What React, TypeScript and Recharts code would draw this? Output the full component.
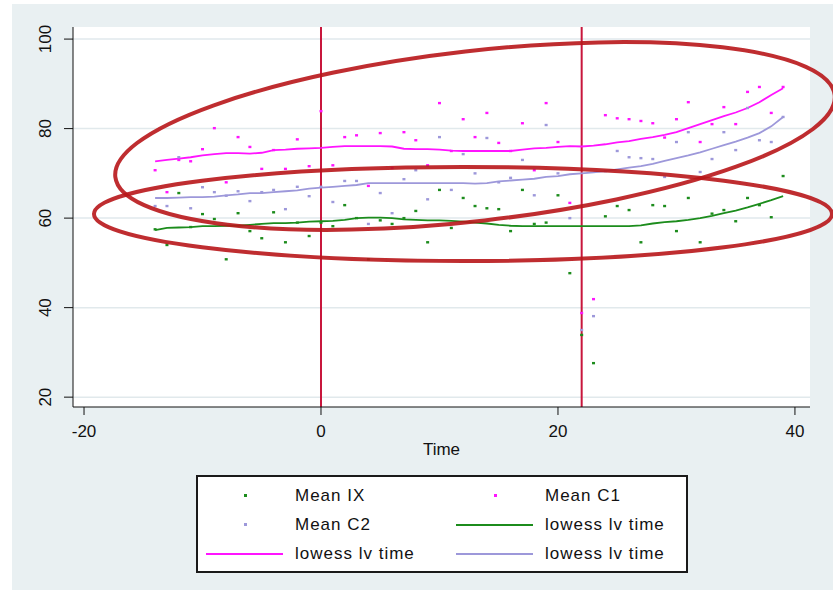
import { ComposedChart, Scatter, Line, XAxis, YAxis, CartesianGrid, ReferenceLine } from 'recharts'

// time points
const times = [
  -14, -13, -12, -11, -10, -9, -8, -7, -6, -5, -4, -3, -2, -1, 0, 1, 2, 3, 4, 5,
  6, 7, 8, 9, 10, 11, 12, 13, 14, 15, 16, 17, 18, 19, 20, 21, 22, 23, 24, 25,
  26, 27, 28, 29, 30, 31, 32, 33, 34, 35, 36, 37, 38, 39,
]

const meanIX = [
  57.5, 54, 65.6, 58, 60.9, 59.8, 50.8, 61.1, 57.1, 55.5, 61.3, 54.6, 59, 56, 59, 58.2, 62.9, 60, 50.8, 59.5,
  58.7, 60, 61.6, 54.6, 66.3, 57.8, 64.5, 62.7, 62.2, 62, 57.1, 66.3, 58.7, 59, 65.1, 47.7, 33.9, 27.6, 60.4, 62.7,
  61.8, 54.6, 62.9, 62.7, 57.1, 64.5, 54.6, 61, 61.8, 59.3, 64.5, 62.9, 60.2, 69.4,
]

const meanC1 = [
  70.7, 65.8, 73, 72.7, 75.4, 80.1, 68, 78.1, 75.9, 71, 75.2, 71, 77.6, 71.6, 83.9, 71.8, 78.1, 78.5, 67.2, 79,
  71.2, 79.2, 77.4, 71.8, 85.7, 75, 82.1, 78.1, 83.5, 76.8, 75, 81.2, 70.7, 85.7, 77, 63.4, 38.8, 41.9, 83, 82.3,
  82.1, 81.7, 81.2, 78, 82.1, 85.9, 77, 81, 84.8, 81, 88.2, 89.3, 83.5, 89.3,
]

const meanC2 = [
  62.7, 62.7, 73.6, 62.2, 66.9, 65.8, 65, 66, 63.8, 65.8, 66.3, 62, 67, 64.9, 67, 63.6, 68.3, 68.3, 58.7, 65.6,
  61.1, 68.7, 70.7, 64.2, 78.1, 66.3, 74.3, 70, 77.9, 68, 69, 73, 65.1, 80.8, 70, 60, 35, 38.1, 70.5, 75,
  73.6, 73.4, 73.2, 69.2, 77, 79.2, 70.3, 73.2, 79.2, 75.2, 84.6, 77.4, 77, 82.6,
]

// lowess smooths
const lowessIX = [
  57.3, 57.8, 57.9, 58, 58.2, 58.2, 58.3, 58.3, 58.5, 58.7, 58.9, 58.9, 59, 59.2, 59.3, 59.4, 59.6, 60, 60.1, 60.1,
  60, 59.7, 59.6, 59.5, 59.5, 59.4, 59.2, 59, 58.8, 58.5, 58.3, 58.2, 58.2, 58.2, 58.2, 58.2, 58.2, 58.2, 58.2, 58.2,
  58.2, 58.4, 58.8, 59.1, 59.3, 59.6, 60, 60.5, 61.1, 61.7, 62.4, 63.2, 64, 64.9,
]

const lowessC1 = [
  72.7, 73, 73.3, 73.6, 74, 74.3, 74.5, 74.5, 74.4, 74.6, 75.2, 75.3, 75.5, 75.6, 75.7, 75.9, 76.1, 76.1, 76.1, 76.1,
  76, 75.5, 75.4, 75.4, 75.3, 75.1, 75, 75, 75, 75, 75, 75.3, 75.6, 75.7, 75.9, 76.1, 76, 76.2, 76.5, 76.9,
  77.2, 77.7, 78.1, 78.6, 79.2, 80.1, 81, 81.9, 82.8, 83.6, 84.6, 85.9, 87.5, 89,
]

const lowessC2 = [
  64.5, 64.5, 64.6, 64.7, 64.7, 64.8, 65.1, 65.3, 65.6, 65.6, 65.8, 66, 66.2, 66.6, 66.8, 67, 67.2, 67.4, 67.8, 67.8,
  67.8, 67.8, 67.8, 67.8, 67.8, 67.8, 67.8, 67.7, 67.8, 68.2, 68.4, 68.6, 68.8, 69.2, 69.4, 69.8, 70, 70.2, 70.5, 70.9,
  71.3, 71.6, 72.1, 72.8, 73.4, 74, 74.7, 75.5, 76.3, 77.1, 78, 79, 80.5, 82.6,
]

const xTicks = [-20, 0, 20, 40]
const yTicks = [20, 40, 60, 80, 100]
const xLines = [0, 22]

const GREEN = '#1c8c1c'
const MAGENTA = '#ff14ff'
const LAVENDER = '#9d98da'
const FONT = '"Liberation Sans", Arial, sans-serif'
const Y_LABEL_X = 46

const data = times.map((t, i) => ({
  t,
  ix: meanIX[i],
  c1: meanC1[i],
  c2: meanC2[i],
  lix: lowessIX[i],
  lc1: lowessC1[i],
  lc2: lowessC2[i],
}))

const Dash = (props: any) => {
  const { cx, cy, fill } = props
  if (cx == null || cy == null) return null
  return <rect x={cx - 1.5} y={cy - 1.2} width={3} height={2.4} fill={fill} />
}

const YTick = (props: any) => {
  const { y, payload } = props
  return (
    <text
      x={Y_LABEL_X}
      y={y}
      transform={`rotate(-90 ${Y_LABEL_X} ${y})`}
      textAnchor="middle"
      dominantBaseline="central"
      fontSize={17}
      fontFamily={FONT}
      fill="#111"
    >
      {payload.value}
    </text>
  )
}

const legendRows = [
  { left: { kind: 'dot', color: GREEN, label: 'Mean IX' }, right: { kind: 'dot', color: MAGENTA, label: 'Mean C1' } },
  { left: { kind: 'dot', color: LAVENDER, label: 'Mean C2' }, right: { kind: 'line', color: GREEN, label: 'lowess lv time' } },
  { left: { kind: 'line', color: MAGENTA, label: 'lowess lv time' }, right: { kind: 'line', color: LAVENDER, label: 'lowess lv time' } },
]

function LegendItem({ item, x, y }: { item: any; x: number; y: number }) {
  return (
    <>
      {item.kind === 'dot' ? (
        <div style={{ position: 'absolute', left: x + 46, top: y - 2, width: 3, height: 3, background: item.color }} />
      ) : (
        <div style={{ position: 'absolute', left: x + 8, top: y - 1, width: 77, height: 2, background: item.color }} />
      )}
      <div
        style={{
          position: 'absolute',
          left: x + 97,
          top: y - 11,
          fontSize: 17,
          lineHeight: '22px',
          letterSpacing: 1,
          fontFamily: FONT,
          color: '#111',
          whiteSpace: 'nowrap',
        }}
      >
        {item.label}
      </div>
    </>
  )
}

export default function App() {
  return (
    <div style={{ position: 'relative', width: 833, height: 595, background: '#fff', overflow: 'hidden' }}>
      <style>{`body{margin:0}`}</style>
      <div style={{ position: 'absolute', left: 12, top: 4, width: 821, height: 586, background: '#e9f0f2' }} />
      <div style={{ position: 'absolute', left: 0, top: 0 }}>
        <ComposedChart width={833} height={595} data={data} margin={{ top: 27, right: 23, left: 13, bottom: 148 }}>
          <CartesianGrid vertical={false} horizontalValues={yTicks} stroke="#e1e9ec" strokeWidth={1.5} fill="#fff" />
          <XAxis
            type="number"
            dataKey="t"
            domain={[-20.93, 41.27]}
            ticks={xTicks}
            allowDataOverflow
            height={40}
            stroke="#111"
            tickSize={8}
            tickMargin={10}
            tick={{ fontSize: 17, fill: '#111', fontFamily: FONT }}
            label={{ value: 'Time', position: 'bottom', offset: -4, fontSize: 17, fill: '#111', fontFamily: FONT }}
          />
          <YAxis
            type="number"
            domain={[17.8, 102.7]}
            ticks={yTicks}
            allowDataOverflow
            width={60}
            stroke="#111"
            tickSize={9}
            tick={<YTick />}
          />
          {xLines.map((x) => (
            <ReferenceLine key={x} x={x} stroke="#c8163c" strokeWidth={2} />
          ))}
          <Scatter dataKey="ix" fill={GREEN} shape={<Dash />} isAnimationActive={false} />
          <Scatter dataKey="c1" fill={MAGENTA} shape={<Dash />} isAnimationActive={false} />
          <Scatter dataKey="c2" fill={LAVENDER} shape={<Dash />} isAnimationActive={false} />
          <Line dataKey="lix" stroke={GREEN} strokeWidth={1.8} dot={false} type="linear" isAnimationActive={false} />
          <Line dataKey="lc1" stroke={MAGENTA} strokeWidth={1.8} dot={false} type="linear" isAnimationActive={false} />
          <Line dataKey="lc2" stroke={LAVENDER} strokeWidth={1.8} dot={false} type="linear" isAnimationActive={false} />
        </ComposedChart>
      </div>
      {/* hand-drawn annotation ellipses */}
      <svg width={833} height={595} style={{ position: 'absolute', left: 0, top: 0, pointerEvents: 'none' }}>
        <ellipse cx={475} cy={136} rx={362} ry={85} transform="rotate(-6.5 475 136)" fill="none" stroke="#b8161a" strokeWidth={4} strokeOpacity={0.9} />
        <ellipse cx={463} cy={214} rx={369} ry={47} fill="none" stroke="#b8161a" strokeWidth={4} strokeOpacity={0.9} />
      </svg>
      <div
        style={{
          position: 'absolute',
          left: 196,
          top: 475,
          width: 488,
          height: 94,
          border: '2px solid #1a1a1a',
          background: '#fff',
        }}
      >
        {legendRows.map((row, i) => (
          <div key={i}>
            <LegendItem item={row.left} x={0} y={19 + i * 29} />
            <LegendItem item={row.right} x={250} y={19 + i * 29} />
          </div>
        ))}
      </div>
    </div>
  )
}
